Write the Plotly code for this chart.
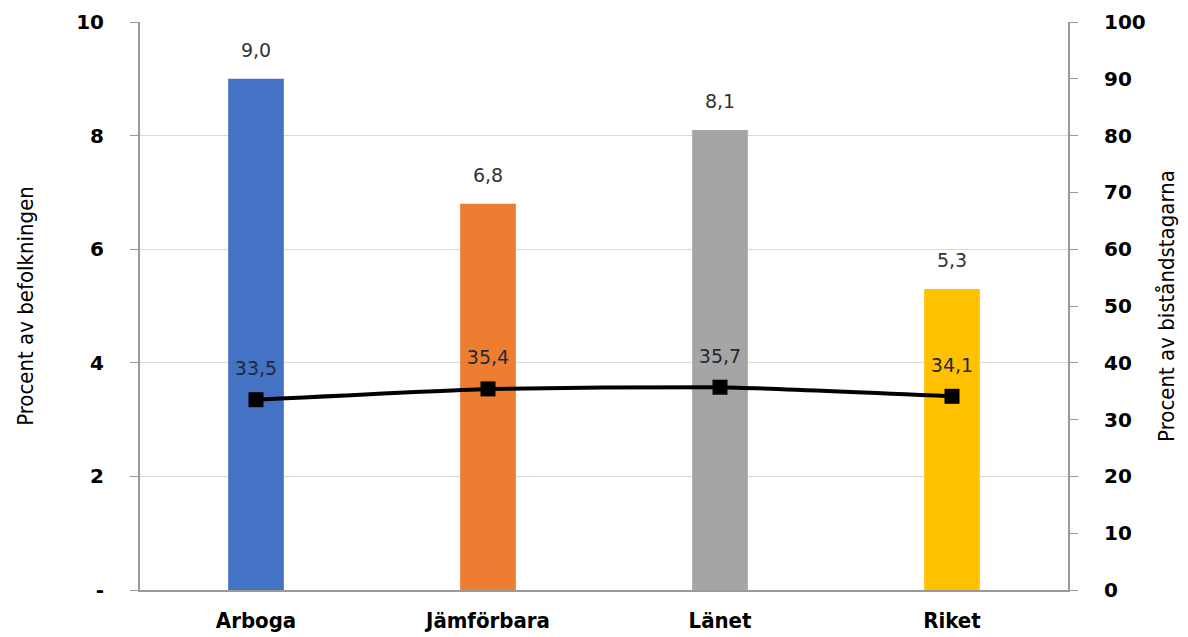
import plotly.graph_objects as go

categories = ["Arboga", "Jämförbara", "Länet", "Riket"]
bar_values = [9.0, 6.8, 8.1, 5.3]
line_values = [33.5, 35.4, 35.7, 34.1]
bar_colors = ["#4472C4", "#ED7D31", "#A5A5A5", "#FFC000"]
left_ticks = [0, 2, 4, 6, 8, 10]
left_ticktext = ["-", "2", "4", "6", "8", "10"]

def fmt(v):
    return f"{v:.1f}".replace(".", ",")

COND = "DejaVu Sans Condensed, Liberation Sans Narrow, Arial Narrow, sans-serif"

fig = go.Figure()
fig.add_trace(go.Bar(
    x=categories, y=bar_values, marker=dict(color=bar_colors, line=dict(width=0)),
    width=0.24, yaxis="y", showlegend=False, hoverinfo="skip"))
# bar value labels
fig.add_trace(go.Scatter(
    x=categories, y=bar_values, mode="markers+text",
    marker=dict(size=26, opacity=0), text=[fmt(v) for v in bar_values],
    textposition="top center", textfont=dict(family="DejaVu Sans", size=19, color="#333"),
    yaxis="y", showlegend=False, cliponaxis=False, hoverinfo="skip"))
fig.add_trace(go.Scatter(
    x=categories, y=line_values, mode="lines+markers",
    line=dict(color="black", width=4, shape="spline", smoothing=0.4),
    marker=dict(symbol="square", size=15, color="black"),
    yaxis="y2", showlegend=False, cliponaxis=False))
# line value labels
fig.add_trace(go.Scatter(
    x=categories, y=line_values, mode="markers+text",
    marker=dict(size=30, opacity=0), text=[fmt(v) for v in line_values],
    textposition="top center", textfont=dict(family="DejaVu Sans", size=19, color="#1f2a3a"),
    yaxis="y2", showlegend=False, cliponaxis=False, hoverinfo="skip"))

fig.update_layout(
    width=1188, height=637,
    margin=dict(l=132, r=128, t=14, b=55, autoexpand=False),
    plot_bgcolor="white", paper_bgcolor="white",
    xaxis=dict(showline=True, linecolor="#999", linewidth=2,
               tickfont=dict(family=COND, size=22, color="black", weight="bold"),
               ticks="", ticklabelstandoff=10),
    yaxis=dict(range=[0, 10], tickvals=left_ticks, ticktext=left_ticktext,
               showgrid=True, gridcolor="#d9d9d9", gridwidth=1,
               showline=True, linecolor="#999", linewidth=2,
               ticks="outside", ticklen=8, tickcolor="#999",
               ticklabelstandoff=22,
               tickfont=dict(family="DejaVu Sans", size=20, color="black", weight="bold"),
               title=dict(text="Procent av befolkningen",
                          font=dict(family=COND, size=22, color="black"),
                          standoff=36),
               zeroline=False),
    yaxis2=dict(range=[0, 100], dtick=10, overlaying="y", side="right",
                showgrid=False, showline=True, linecolor="#999", linewidth=2,
                ticks="outside", ticklen=8, tickcolor="#999",
                ticklabelstandoff=22,
                tickfont=dict(family="DejaVu Sans", size=20, color="black", weight="bold"),
                title=dict(text="Procent av biståndstagarna",
                           font=dict(family=COND, size=22, color="black"),
                           standoff=14),
                zeroline=False),
)
fig.write_html("out.html")
